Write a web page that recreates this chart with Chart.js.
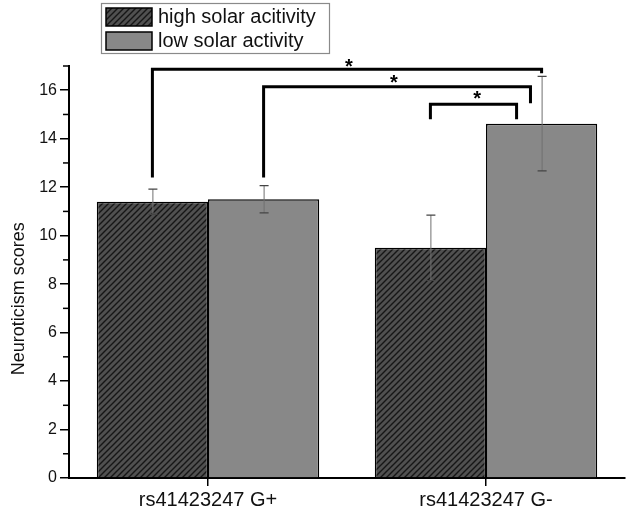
<!DOCTYPE html>
<html>
<head>
<meta charset="utf-8">
<script src="https://cdn.jsdelivr.net/npm/chart.js@4.4.1/dist/chart.umd.min.js"></script>
<style>
  html, body { margin: 0; padding: 0; background: #fff; }
  canvas { display: block; }
</style>
</head>
<body>
<canvas id="chart" width="630" height="521"></canvas>
<script>
// data
const categories = ['rs41423247 G+', 'rs41423247 G-'];
const seriesNames = ['high solar acitivity', 'low solar activity'];
const highMeans = [11.4, 9.5];
const highErr = [0.52, 1.35];
const lowMeans = [11.5, 14.62];
const lowErr = [0.56, 1.95];
const yTitle = 'Neuroticism scores';

// significance brackets (x in category index units, y in score units)
const bracketFrom = [-0.2, 0.2, 0.8];
const bracketTo = [1.2, 1.16, 1.11];
const bracketTop = [16.87, 16.14, 15.42];
const bracketFromEnd = [12.4, 12.4, 14.8];
const bracketToEnd = [16.7, 15.46, 14.8];
const starAt = [0.507, 0.669, 0.968];
const starLevel = [17.16, 16.51, 15.83];

const FONT = "'Liberation Sans', Arial, sans-serif";

// hatch fill for the high activity bars
function makeHatch() {
    const s = 6;
    const c = document.createElement('canvas');
    c.width = s; c.height = s;
    const g = c.getContext('2d');
    g.fillStyle = '#505050';
    g.fillRect(0, 0, s, s);
    g.strokeStyle = '#161616';
    g.lineWidth = 1.4;
    g.beginPath();
    g.moveTo(0, s); g.lineTo(s, 0);
    g.moveTo(-1, 1); g.lineTo(1, -1);
    g.moveTo(s - 1, s + 1); g.lineTo(s + 1, s - 1);
    g.stroke();
    return g.createPattern(c, 'repeat');
}
const hatch = makeHatch();
const lowGrey = '#888888';

// x position for fractional category index
function catX(xs, v) {
    const p0 = xs.getPixelForValue(0), p1 = xs.getPixelForValue(1);
    return p0 + v * (p1 - p0);
}

// error bars
const errorBars = {
    id: 'errorBars',
    afterDatasetsDraw(chart) {
        const ctx = chart.ctx, ys = chart.scales.y;
        const errs = [highErr, lowErr];
        chart.data.datasets.forEach((ds, di) => {
            chart.getDatasetMeta(di).data.forEach((bar, i) => {
                const m = ds.data[i], e = errs[di][i];
                const top = ys.getPixelForValue(m + e), bot = ys.getPixelForValue(m - e);
                ctx.save();
                ctx.strokeStyle = '#707070';
                ctx.lineWidth = 1;
                ctx.beginPath();
                ctx.moveTo(bar.x + 0.5, top); ctx.lineTo(bar.x + 0.5, bot);
                ctx.stroke();
                ctx.strokeStyle = '#444';
                ctx.lineWidth = 1.2;
                ctx.beginPath();
                ctx.moveTo(bar.x - 4, top); ctx.lineTo(bar.x + 5, top);
                ctx.moveTo(bar.x - 4, bot); ctx.lineTo(bar.x + 5, bot);
                ctx.stroke();
                ctx.restore();
            });
        });
    }
};

// brackets with asterisks
const brackets = {
    id: 'brackets',
    afterDraw(chart) {
        const ctx = chart.ctx, xs = chart.scales.x, ys = chart.scales.y;
        ctx.save();
        ctx.strokeStyle = '#000';
        ctx.lineWidth = 3;
        for (let i = 0; i < bracketTop.length; i++) {
            const x1 = catX(xs, bracketFrom[i]), x2 = catX(xs, bracketTo[i]);
            ctx.beginPath();
            ctx.moveTo(x1, ys.getPixelForValue(bracketFromEnd[i]));
            ctx.lineTo(x1, ys.getPixelForValue(bracketTop[i]));
            ctx.lineTo(x2, ys.getPixelForValue(bracketTop[i]));
            ctx.lineTo(x2, ys.getPixelForValue(bracketToEnd[i]));
            ctx.stroke();
        }
        ctx.fillStyle = '#000';
        ctx.font = 'bold 20px ' + FONT;
        ctx.textAlign = 'center';
        ctx.textBaseline = 'alphabetic';
        for (let i = 0; i < starAt.length; i++) {
            ctx.fillText('*', catX(xs, starAt[i]), ys.getPixelForValue(starLevel[i]) + 11);
        }
        ctx.restore();
    }
};

// minor ticks on the y axis + the axis title (sits a bit below centre in the original)
const yExtras = {
    id: 'yExtras',
    afterDraw(chart) {
        const ctx = chart.ctx, ys = chart.scales.y;
        const x0 = chart.chartArea.left;
        ctx.save();
        ctx.strokeStyle = '#000';
        ctx.lineWidth = 1.5;
        ys.ticks.forEach(t => {
            if (t.value % 2 !== 0) {
                const y = ys.getPixelForValue(t.value);
                ctx.beginPath();
                ctx.moveTo(x0 - 6, y); ctx.lineTo(x0, y);
                ctx.stroke();
            }
        });
        ctx.translate(19, ys.getPixelForValue(7.4));
        ctx.rotate(-Math.PI / 2);
        ctx.fillStyle = '#111';
        ctx.font = '18px ' + FONT;
        ctx.textAlign = 'center';
        ctx.textBaseline = 'middle';
        ctx.fillText(yTitle, 0, 0);
        ctx.restore();
    }
};

// boxed legend, two rows
const boxLegend = {
    id: 'boxLegend',
    afterDraw(chart) {
        const ctx = chart.ctx;
        ctx.save();
        ctx.strokeStyle = '#8a8a8a';
        ctx.lineWidth = 1.2;
        ctx.strokeRect(101.5, 3.5, 228, 50);
        chart.data.datasets.forEach((ds, i) => {
            const y = 8 + i * 24;
            ctx.fillStyle = ds.backgroundColor;
            ctx.fillRect(106, y, 46, 18);
            ctx.strokeStyle = '#000';
            ctx.lineWidth = 1.5;
            ctx.strokeRect(106, y, 46, 18);
            ctx.fillStyle = '#111';
            ctx.font = '20px ' + FONT;
            ctx.textAlign = 'left';
            ctx.textBaseline = 'middle';
            ctx.fillText(ds.label, 158, y + 9);
        });
        ctx.restore();
    }
};

new Chart(document.getElementById('chart'), {
    type: 'bar',
    data: {
        labels: categories,
        datasets: [
            { label: seriesNames[0], data: highMeans, backgroundColor: hatch, borderColor: '#000', borderWidth: 1.5, borderSkipped: 'bottom' },
            { label: seriesNames[1], data: lowMeans, backgroundColor: lowGrey, borderColor: '#000', borderWidth: 1.5, borderSkipped: 'bottom' }
        ]
    },
    options: {
        responsive: false,
        animation: false,
        devicePixelRatio: 1,
        categoryPercentage: 0.8,
        barPercentage: 1.0,
        layout: { padding: { top: 66, right: 5, left: 0, bottom: 7 } },
        plugins: { legend: { display: false }, tooltip: { enabled: false } },
        scales: {
            x: {
                offset: true,
                grid: { drawOnChartArea: false, offset: false, tickLength: 8, color: '#000', lineWidth: 1.5 },
                border: { color: '#000', width: 2 },
                ticks: { color: '#111', padding: 2, font: { family: FONT, size: 20 } }
            },
            y: {
                min: 0, max: 17,
                afterFit: s => { s.width = 69; },
                grid: {
                    drawOnChartArea: false, tickLength: 9, lineWidth: 1.5,
                    tickColor: c => (c.tick && c.tick.value % 2 === 0) ? '#000' : 'rgba(0,0,0,0)'
                },
                border: { color: '#000', width: 2 },
                ticks: {
                    stepSize: 1, autoSkip: false, color: '#111', padding: 3,
                    font: { family: FONT, size: 16 },
                    callback: v => v % 2 === 0 ? v : ''
                }
            }
        }
    },
    plugins: [errorBars, brackets, yExtras, boxLegend]
});
</script>
</body>
</html>
